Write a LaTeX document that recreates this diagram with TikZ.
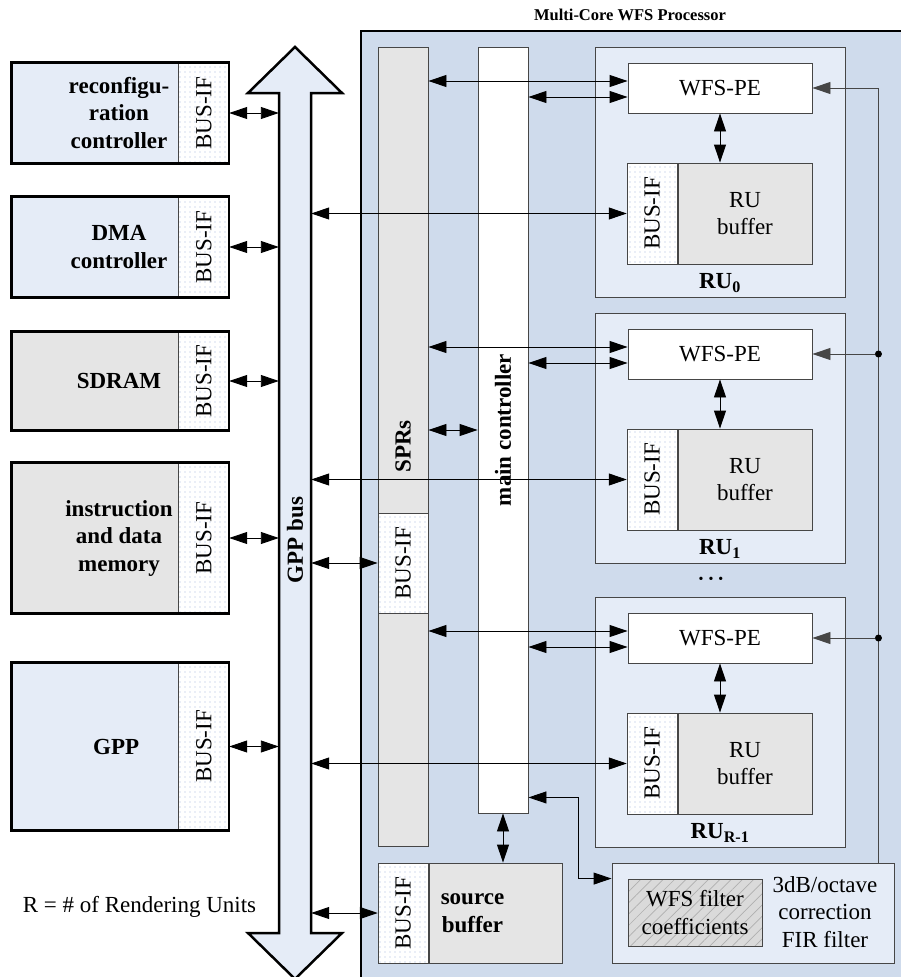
\documentclass[tikz,border=0pt]{standalone}
\usepackage{fontspec}
\setmainfont{Liberation Serif}
\usetikzlibrary{
  arrows.meta,
  positioning,
  fit,
  patterns.meta
}
\definecolor{procblue}{RGB}{207,219,236}
\definecolor{paleblue}{RGB}{229,236,247}
\definecolor{memgray}{RGB}{229,229,229}
\definecolor{coefgray}{RGB}{218,218,218}
\definecolor{hatchgray}{RGB}{175,175,175}
\definecolor{dotblue}{RGB}{165,185,222}
\definecolor{linegray}{RGB}{70,70,70}
\newcommand\bigtxt{\fontsize{23}{27.5}\selectfont}
\tikzset{
  blkpart/.style = {draw, line width=0.8pt, minimum width=166, inner sep=0},
  blkframe/.style = {draw, line width=2.5pt, inner sep=0},
  blklabel/.style = {font=\bigtxt\bfseries, align=center, xshift=24pt},
  busif/.style = {
    draw=linegray, line width=0.8pt, preaction={fill=white},
    pattern={Dots[distance=5pt, radius=0.7pt]}, pattern color=dotblue,
    minimum width=50, inner sep=0
  },
  colbox/.style = {draw=linegray, line width=0.9pt, minimum width=50, inner sep=0},
  rubox/.style = {draw=linegray, line width=0.9pt, fill=paleblue, inner sep=0},
  pebox/.style = {draw=linegray, line width=0.9pt, fill=white,
    minimum width=184, minimum height=50, inner sep=0},
  bufbox/.style = {draw=linegray, line width=0.9pt, fill=memgray,
    minimum width=134, minimum height=101, inner sep=0, align=center},
  coefbox/.style = {
    draw=linegray, line width=0.9pt, preaction={fill=coefgray},
    pattern={Lines[angle=45, distance=8pt, line width=0.7pt]}, pattern color=hatchgray,
    align=center, minimum width=134, minimum height=67, inner sep=0
  },
  biarrow/.style = {<->, line width=0.9pt},
  toarrow/.style = {->, line width=0.9pt, draw=linegray},
  jdot/.style = {circle, fill, inner sep=0, minimum size=7pt}
}

\begin{document}
\begin{tikzpicture}[
    x=1pt, y=-1pt,
    font=\bigtxt,
    >={Triangle[length=18pt, width=12pt]}
]
    \useasboundingbox (0,0) rectangle (901,977);
    \clip (0,0) rectangle (901,977);

    % GPP bus
    \draw[line width=2.5pt, fill=paleblue]
        (279,933) -- (279,93) -- (248,93) -- (295,47) -- (342,93) -- (311,93)
        -- (311,933) -- (342,933) -- (295,979) -- (248,933) -- cycle;
    \node[minimum width=32, minimum height=840, inner sep=0] (bus) at (295,513) {};
    \node[font=\bigtxt\bfseries, rotate=90] (buslab) at (295,540) {GPP bus};

    % Blocks on the bus
    \foreach \name/\ypos/\h/\col/\txt in {
        reconf/113/100/paleblue/{reconfigu-\\ration\\controller},
        dma/247/100/paleblue/{DMA\\controller},
        sdram/381/98/memgray/SDRAM,
        imem/538/150/memgray/{instruction\\and data\\memory},
        gpp/746.5/167/paleblue/GPP
    } {
        \node[blkpart, fill=\col, minimum height=\h,
              label={[blklabel]center:\txt}] (\name) at (95,\ypos) {};
        \node[busif, minimum height=\h, right=0pt of \name] (\name-if)
            {\rotatebox{90}{BUS-IF}};
        \node[blkframe, fit=(\name)(\name-if)] {};
        \draw[biarrow] (\name-if.east) -- (\name-if.east -| bus.west);
    }

    \node (rnote) at (139.5,907) {R = \# of Rendering Units};

    % Multi-core processor
    \draw[line width=2.5pt, fill=procblue] (361,31) rectangle (905,981);
    \node[font=\fontsize{16.5}{20}\selectfont\bfseries] (title) at (630,15)
        {Multi-Core WFS Processor};

    \node[colbox, fill=memgray, minimum height=799] (spr) at (403,446.5)
        {\rotatebox{90}{\bfseries SPRs}};
    \node[busif, minimum height=100] (sprif) at (403,563) {\rotatebox{90}{BUS-IF}};
    \node[colbox, fill=white, minimum height=766] (mc) at (503,430)
        {\rotatebox{90}{\bfseries main controller}};

    \draw[biarrow] (mc.west -| spr.east) -- (mc.west);
    \draw[biarrow] (sprif.west -| bus.east) -- (sprif.west);

    % source buffer
    \node[bufbox, minimum width=133, minimum height=100,
          label={[font=\bigtxt\bfseries, align=center, xshift=-23pt]center:source\\buffer}]
          (srcbuf) at (495.5,913) {};
    \node[busif, minimum height=100, left=0pt of srcbuf] (srcif) {\rotatebox{90}{BUS-IF}};
    \draw[biarrow] (mc.south) -- (mc.south |- srcbuf.north);
    \draw[biarrow] (srcif.west -| bus.east) -- (srcif.west);

    % FIR filter
    \node[rubox, minimum width=282, minimum height=100] (filt) at (753,913) {};
    \node[coefbox] (coef) at (695,912.5) {WFS filter\\coefficients};
    \node[align=center] (firtxt) at (825,912) {3dB/octave\\correction\\FIR filter};

    \coordinate (mcout) at ([yshift=16pt]mc.south east);
    \coordinate (filtin) at ([yshift=-16pt]filt.north west);
    \draw[biarrow] (mcout) -- ++(50,0) |- (filtin);

    % Rendering units
    \foreach \i/\ytop/\sub in {0/47/0, 1/313/1, 2/597/R-1} {
        \node[rubox, minimum width=250, minimum height=250] (ru\i) at (720,\ytop+125) {};
        \node[pebox] (pe\i) at (720,\ytop+41) {WFS-PE};
        \node[bufbox] (rub\i) at (745,\ytop+166.5) {RU\\buffer};
        \node[busif, minimum height=101, left=0pt of rub\i] (rif\i) {\rotatebox{90}{BUS-IF}};
        \node[font=\bigtxt\bfseries] (rulab\i) at (720,\ytop+236) {RU\textsubscript{\sub}};

        \draw[biarrow] (pe\i.south) -- (pe\i.south |- rub\i.north);
        \coordinate (ina\i) at ([yshift=7pt]pe\i.west);
        \coordinate (inb\i) at ([yshift=-9pt]pe\i.west);
        \draw[biarrow] (ina\i -| spr.east) -- (ina\i);
        \draw[biarrow] (inb\i -| mc.east) -- (inb\i);
        \draw[biarrow] (rif\i.west -| bus.east) -- (rif\i.west);
    }
    \node (more) at (711,580)
        {\fontsize{14}{16}\selectfont\textbullet\hspace{5pt}\textbullet\hspace{5pt}\textbullet};

    % Filter feedback to the PEs
    \coordinate (fbx) at ([xshift=-16pt]filt.north east);
    \draw[toarrow] (fbx) |- (pe0.east);
    \foreach \i in {1,2} {
        \node[jdot] (j\i) at (pe\i.east -| fbx) {};
        \draw[toarrow] (j\i) -- (pe\i.east);
    }

\end{tikzpicture}
\end{document}
